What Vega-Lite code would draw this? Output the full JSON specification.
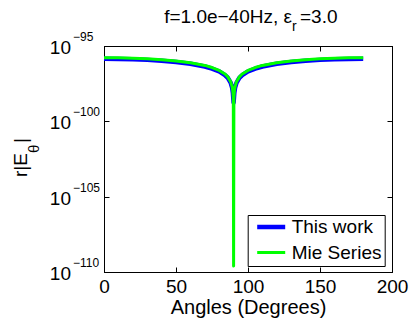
{
  "$schema": "https://vega.github.io/schema/vega-lite/v6.json",
  "width": 288,
  "height": 226,
  "autosize": {"type": "none"},
  "padding": {"left": 104, "top": 46, "right": 17, "bottom": 48},
  "background": "white",
  "datasets": {
    "curves": [
      {"a": 0, "v": 1.41e-96, "s": "This work"},
      {"a": 10, "v": 1.39e-96, "s": "This work"},
      {"a": 20, "v": 1.32e-96, "s": "This work"},
      {"a": 30, "v": 1.20e-96, "s": "This work"},
      {"a": 40, "v": 1.05e-96, "s": "This work"},
      {"a": 50, "v": 8.71e-97, "s": "This work"},
      {"a": 60, "v": 6.61e-97, "s": "This work"},
      {"a": 70, "v": 4.37e-97, "s": "This work"},
      {"a": 75, "v": 3.16e-97, "s": "This work"},
      {"a": 80, "v": 2.04e-97, "s": "This work"},
      {"a": 84, "v": 1.17e-97, "s": "This work"},
      {"a": 86, "v": 7.59e-98, "s": "This work"},
      {"a": 88, "v": 3.55e-98, "s": "This work"},
      {"a": 89, "v": 1.66e-98, "s": "This work"},
      {"a": 89.5, "v": 7.76e-99, "s": "This work"},
      {"a": 90, "v": 1.74e-99, "s": "This work"},
      {"a": 90.5, "v": 7.76e-99, "s": "This work"},
      {"a": 91, "v": 1.66e-98, "s": "This work"},
      {"a": 92, "v": 3.55e-98, "s": "This work"},
      {"a": 94, "v": 7.59e-98, "s": "This work"},
      {"a": 96, "v": 1.17e-97, "s": "This work"},
      {"a": 100, "v": 2.04e-97, "s": "This work"},
      {"a": 105, "v": 3.16e-97, "s": "This work"},
      {"a": 110, "v": 4.37e-97, "s": "This work"},
      {"a": 120, "v": 6.61e-97, "s": "This work"},
      {"a": 130, "v": 8.71e-97, "s": "This work"},
      {"a": 140, "v": 1.05e-96, "s": "This work"},
      {"a": 150, "v": 1.20e-96, "s": "This work"},
      {"a": 160, "v": 1.32e-96, "s": "This work"},
      {"a": 170, "v": 1.39e-96, "s": "This work"},
      {"a": 180, "v": 1.41e-96, "s": "This work"},
      {"a": 0, "v": 1.66e-96, "s": "Mie Series"},
      {"a": 10, "v": 1.63e-96, "s": "Mie Series"},
      {"a": 20, "v": 1.55e-96, "s": "Mie Series"},
      {"a": 30, "v": 1.41e-96, "s": "Mie Series"},
      {"a": 40, "v": 1.23e-96, "s": "Mie Series"},
      {"a": 50, "v": 1.02e-96, "s": "Mie Series"},
      {"a": 60, "v": 7.76e-97, "s": "Mie Series"},
      {"a": 70, "v": 5.13e-97, "s": "Mie Series"},
      {"a": 75, "v": 3.72e-97, "s": "Mie Series"},
      {"a": 80, "v": 2.40e-97, "s": "Mie Series"},
      {"a": 84, "v": 1.38e-97, "s": "Mie Series"},
      {"a": 86, "v": 8.91e-98, "s": "Mie Series"},
      {"a": 88, "v": 4.17e-98, "s": "Mie Series"},
      {"a": 89, "v": 1.95e-98, "s": "Mie Series"},
      {"a": 89.5, "v": 9.12e-99, "s": "Mie Series"},
      {"a": 89.8, "v": 3.31e-99, "s": "Mie Series"},
      {"a": 90, "v": 2.5e-110, "s": "Mie Series"},
      {"a": 90.2, "v": 3.31e-99, "s": "Mie Series"},
      {"a": 90.5, "v": 9.12e-99, "s": "Mie Series"},
      {"a": 91, "v": 1.95e-98, "s": "Mie Series"},
      {"a": 92, "v": 4.17e-98, "s": "Mie Series"},
      {"a": 94, "v": 8.91e-98, "s": "Mie Series"},
      {"a": 96, "v": 1.38e-97, "s": "Mie Series"},
      {"a": 100, "v": 2.40e-97, "s": "Mie Series"},
      {"a": 105, "v": 3.72e-97, "s": "Mie Series"},
      {"a": 110, "v": 5.13e-97, "s": "Mie Series"},
      {"a": 120, "v": 7.76e-97, "s": "Mie Series"},
      {"a": 130, "v": 1.02e-96, "s": "Mie Series"},
      {"a": 140, "v": 1.23e-96, "s": "Mie Series"},
      {"a": 150, "v": 1.41e-96, "s": "Mie Series"},
      {"a": 160, "v": 1.55e-96, "s": "Mie Series"},
      {"a": 170, "v": 1.63e-96, "s": "Mie Series"},
      {"a": 180, "v": 1.66e-96, "s": "Mie Series"}
    ],
    "ticks": [
      {"v": 1e-95, "e": "−95"},
      {"v": 1e-100, "e": "−100"},
      {"v": 1e-105, "e": "−105"},
      {"v": 1e-110, "e": "−110"}
    ]
  },
  "layer": [
    {
      "data": {"name": "curves"},
      "transform": [{"filter": "datum.s === 'This work'"}],
      "mark": {"type": "line", "strokeJoin": "round"},
      "encoding": {
        "x": {"field": "a", "type": "quantitative", "scale": {"domain": [0, 200], "nice": false},
          "axis": {"orient": "bottom", "values": [0, 50, 100, 150, 200], "format": "d", "title": "Angles (Degrees)", "labelFlush": false, "labelPadding": 10.6, "titleFontSize": 20, "titleBaseline": "alphabetic", "titleY": 41}},
        "y": {"field": "v", "type": "quantitative", "scale": {"type": "log", "domain": [1e-110, 1e-95], "nice": false},
          "axis": {"orient": "left", "values": [1e-110, 1e-105, 1e-100, 1e-95], "labels": false, "title": null}},
        "color": {"field": "s", "type": "nominal", "scale": {"domain": ["This work", "Mie Series"], "range": ["#0000ff", "#00ff00"]},
          "legend": {"title": null, "orient": "none", "legendX": 143.7, "legendY": 169, "symbolType": "stroke", "symbolSize": 784, "clipHeight": 18, "rowPadding": 6.6, "padding": 3, "symbolOffset": 4, "labelOffset": 4, "labelFontSize": 19, "labelColor": "black", "strokeColor": "black", "fillColor": "white"}},
        "strokeWidth": {"field": "s", "type": "nominal", "scale": {"domain": ["This work", "Mie Series"], "range": [4.5, 3]},
          "legend": {"title": null, "orient": "none", "legendX": 143.7, "legendY": 169, "symbolType": "stroke", "symbolSize": 784, "clipHeight": 18, "rowPadding": 6.6, "padding": 3, "symbolOffset": 4, "labelOffset": 4, "labelFontSize": 19, "labelColor": "black", "strokeColor": "black", "fillColor": "white"}}
      }
    },
    {
      "data": {"name": "curves"},
      "transform": [{"filter": "datum.s === 'Mie Series'"}],
      "mark": {"type": "line", "strokeJoin": "round"},
      "encoding": {
        "x": {"field": "a", "type": "quantitative", "scale": {"domain": [0, 200], "nice": false}, "axis": null},
        "y": {"field": "v", "type": "quantitative", "scale": {"type": "log", "domain": [1e-110, 1e-95], "nice": false}, "axis": null},
        "color": {"field": "s", "type": "nominal"},
        "strokeWidth": {"field": "s", "type": "nominal"}
      }
    },
    {
      "data": {"name": "ticks"},
      "mark": {"type": "text", "align": "right", "baseline": "alphabetic", "dx": -33, "dy": 8, "fontSize": 19, "color": "black"},
      "encoding": {
        "x": {"datum": 0, "type": "quantitative", "scale": {"domain": [0, 200], "nice": false},
          "axis": {"orient": "top", "values": [0, 50, 100, 150, 200], "labels": false, "title": null}},
        "y": {"field": "v", "type": "quantitative", "scale": {"type": "log", "domain": [1e-110, 1e-95], "nice": false},
          "axis": {"orient": "right", "values": [1e-110, 1e-105, 1e-100, 1e-95], "labels": false, "title": null}},
        "text": {"value": "10"}
      }
    },
    {
      "data": {"name": "ticks"},
      "mark": {"type": "text", "align": "left", "baseline": "alphabetic", "dx": -31, "dy": -5, "fontSize": 12, "color": "black"},
      "encoding": {
        "x": {"datum": 0, "type": "quantitative", "scale": {"domain": [0, 200], "nice": false}, "axis": null},
        "y": {"field": "v", "type": "quantitative", "scale": {"type": "log", "domain": [1e-110, 1e-95], "nice": false}, "axis": null},
        "text": {"field": "e"}
      }
    },
    {
      "data": {"values": [{"t": "r|E"}]},
      "mark": {"type": "text", "align": "left", "baseline": "alphabetic", "angle": 270, "dx": -18, "dy": -77, "fontSize": 19, "color": "black"},
      "encoding": {
        "x": {"datum": 0, "type": "quantitative", "scale": {"domain": [0, 200], "nice": false}, "axis": null},
        "y": {"datum": 3.1623e-103, "type": "quantitative", "scale": {"type": "log", "domain": [1e-110, 1e-95], "nice": false}, "axis": null},
        "text": {"field": "t"}
      }
    },
    {
      "data": {"values": [{"t": "θ"}]},
      "mark": {"type": "text", "align": "left", "baseline": "alphabetic", "angle": 270, "dx": 6, "dy": -65, "fontSize": 15, "color": "black"},
      "encoding": {
        "x": {"datum": 0, "type": "quantitative", "scale": {"domain": [0, 200], "nice": false}, "axis": null},
        "y": {"datum": 3.1623e-103, "type": "quantitative", "scale": {"type": "log", "domain": [1e-110, 1e-95], "nice": false}, "axis": null},
        "text": {"field": "t"}
      }
    },
    {
      "data": {"values": [{"t": "|"}]},
      "mark": {"type": "text", "align": "left", "baseline": "alphabetic", "angle": 270, "dx": 16, "dy": -77, "fontSize": 19, "color": "black"},
      "encoding": {
        "x": {"datum": 0, "type": "quantitative", "scale": {"domain": [0, 200], "nice": false}, "axis": null},
        "y": {"datum": 3.1623e-103, "type": "quantitative", "scale": {"type": "log", "domain": [1e-110, 1e-95], "nice": false}, "axis": null},
        "text": {"field": "t"}
      }
    },
    {
      "data": {"values": [{"t": "f=1.0e−40Hz, ε"}]},
      "mark": {"type": "text", "align": "right", "baseline": "alphabetic", "dx": 44, "dy": -23.3, "fontSize": 19, "color": "black"},
      "encoding": {
        "x": {"datum": 100, "type": "quantitative", "scale": {"domain": [0, 200], "nice": false}, "axis": null},
        "y": {"datum": 1e-95, "type": "quantitative", "scale": {"type": "log", "domain": [1e-110, 1e-95], "nice": false}, "axis": null},
        "text": {"field": "t"}
      }
    },
    {
      "data": {"values": [{"t": "r"}]},
      "mark": {"type": "text", "align": "left", "baseline": "alphabetic", "dx": 44, "dy": -15, "fontSize": 14, "color": "black"},
      "encoding": {
        "x": {"datum": 100, "type": "quantitative", "scale": {"domain": [0, 200], "nice": false}, "axis": null},
        "y": {"datum": 1e-95, "type": "quantitative", "scale": {"type": "log", "domain": [1e-110, 1e-95], "nice": false}, "axis": null},
        "text": {"field": "t"}
      }
    },
    {
      "data": {"values": [{"t": "=3.0"}]},
      "mark": {"type": "text", "align": "left", "baseline": "alphabetic", "dx": 52, "dy": -23.3, "fontSize": 19, "color": "black"},
      "encoding": {
        "x": {"datum": 100, "type": "quantitative", "scale": {"domain": [0, 200], "nice": false}, "axis": null},
        "y": {"datum": 1e-95, "type": "quantitative", "scale": {"type": "log", "domain": [1e-110, 1e-95], "nice": false}, "axis": null},
        "text": {"field": "t"}
      }
    }
  ],
  "resolve": {
    "scale": {"x": "independent", "y": "independent"},
    "axis": {"x": "independent", "y": "independent"}
  },
  "config": {
    "font": "Liberation Sans",
    "view": {"stroke": "black", "strokeWidth": 1},
    "axis": {
      "grid": false,
      "domainColor": "black",
      "domainWidth": 1,
      "tickColor": "black",
      "tickWidth": 1,
      "tickSize": -5,
      "labelColor": "black",
      "labelFontSize": 19,
      "labelFont": "Liberation Sans",
      "titleColor": "black",
      "titleFont": "Liberation Sans",
      "titleFontWeight": "normal",
      "titleFontSize": 19
    },
    "legend": {"labelFont": "Liberation Sans"},
    "text": {"font": "Liberation Sans"}
  }
}
